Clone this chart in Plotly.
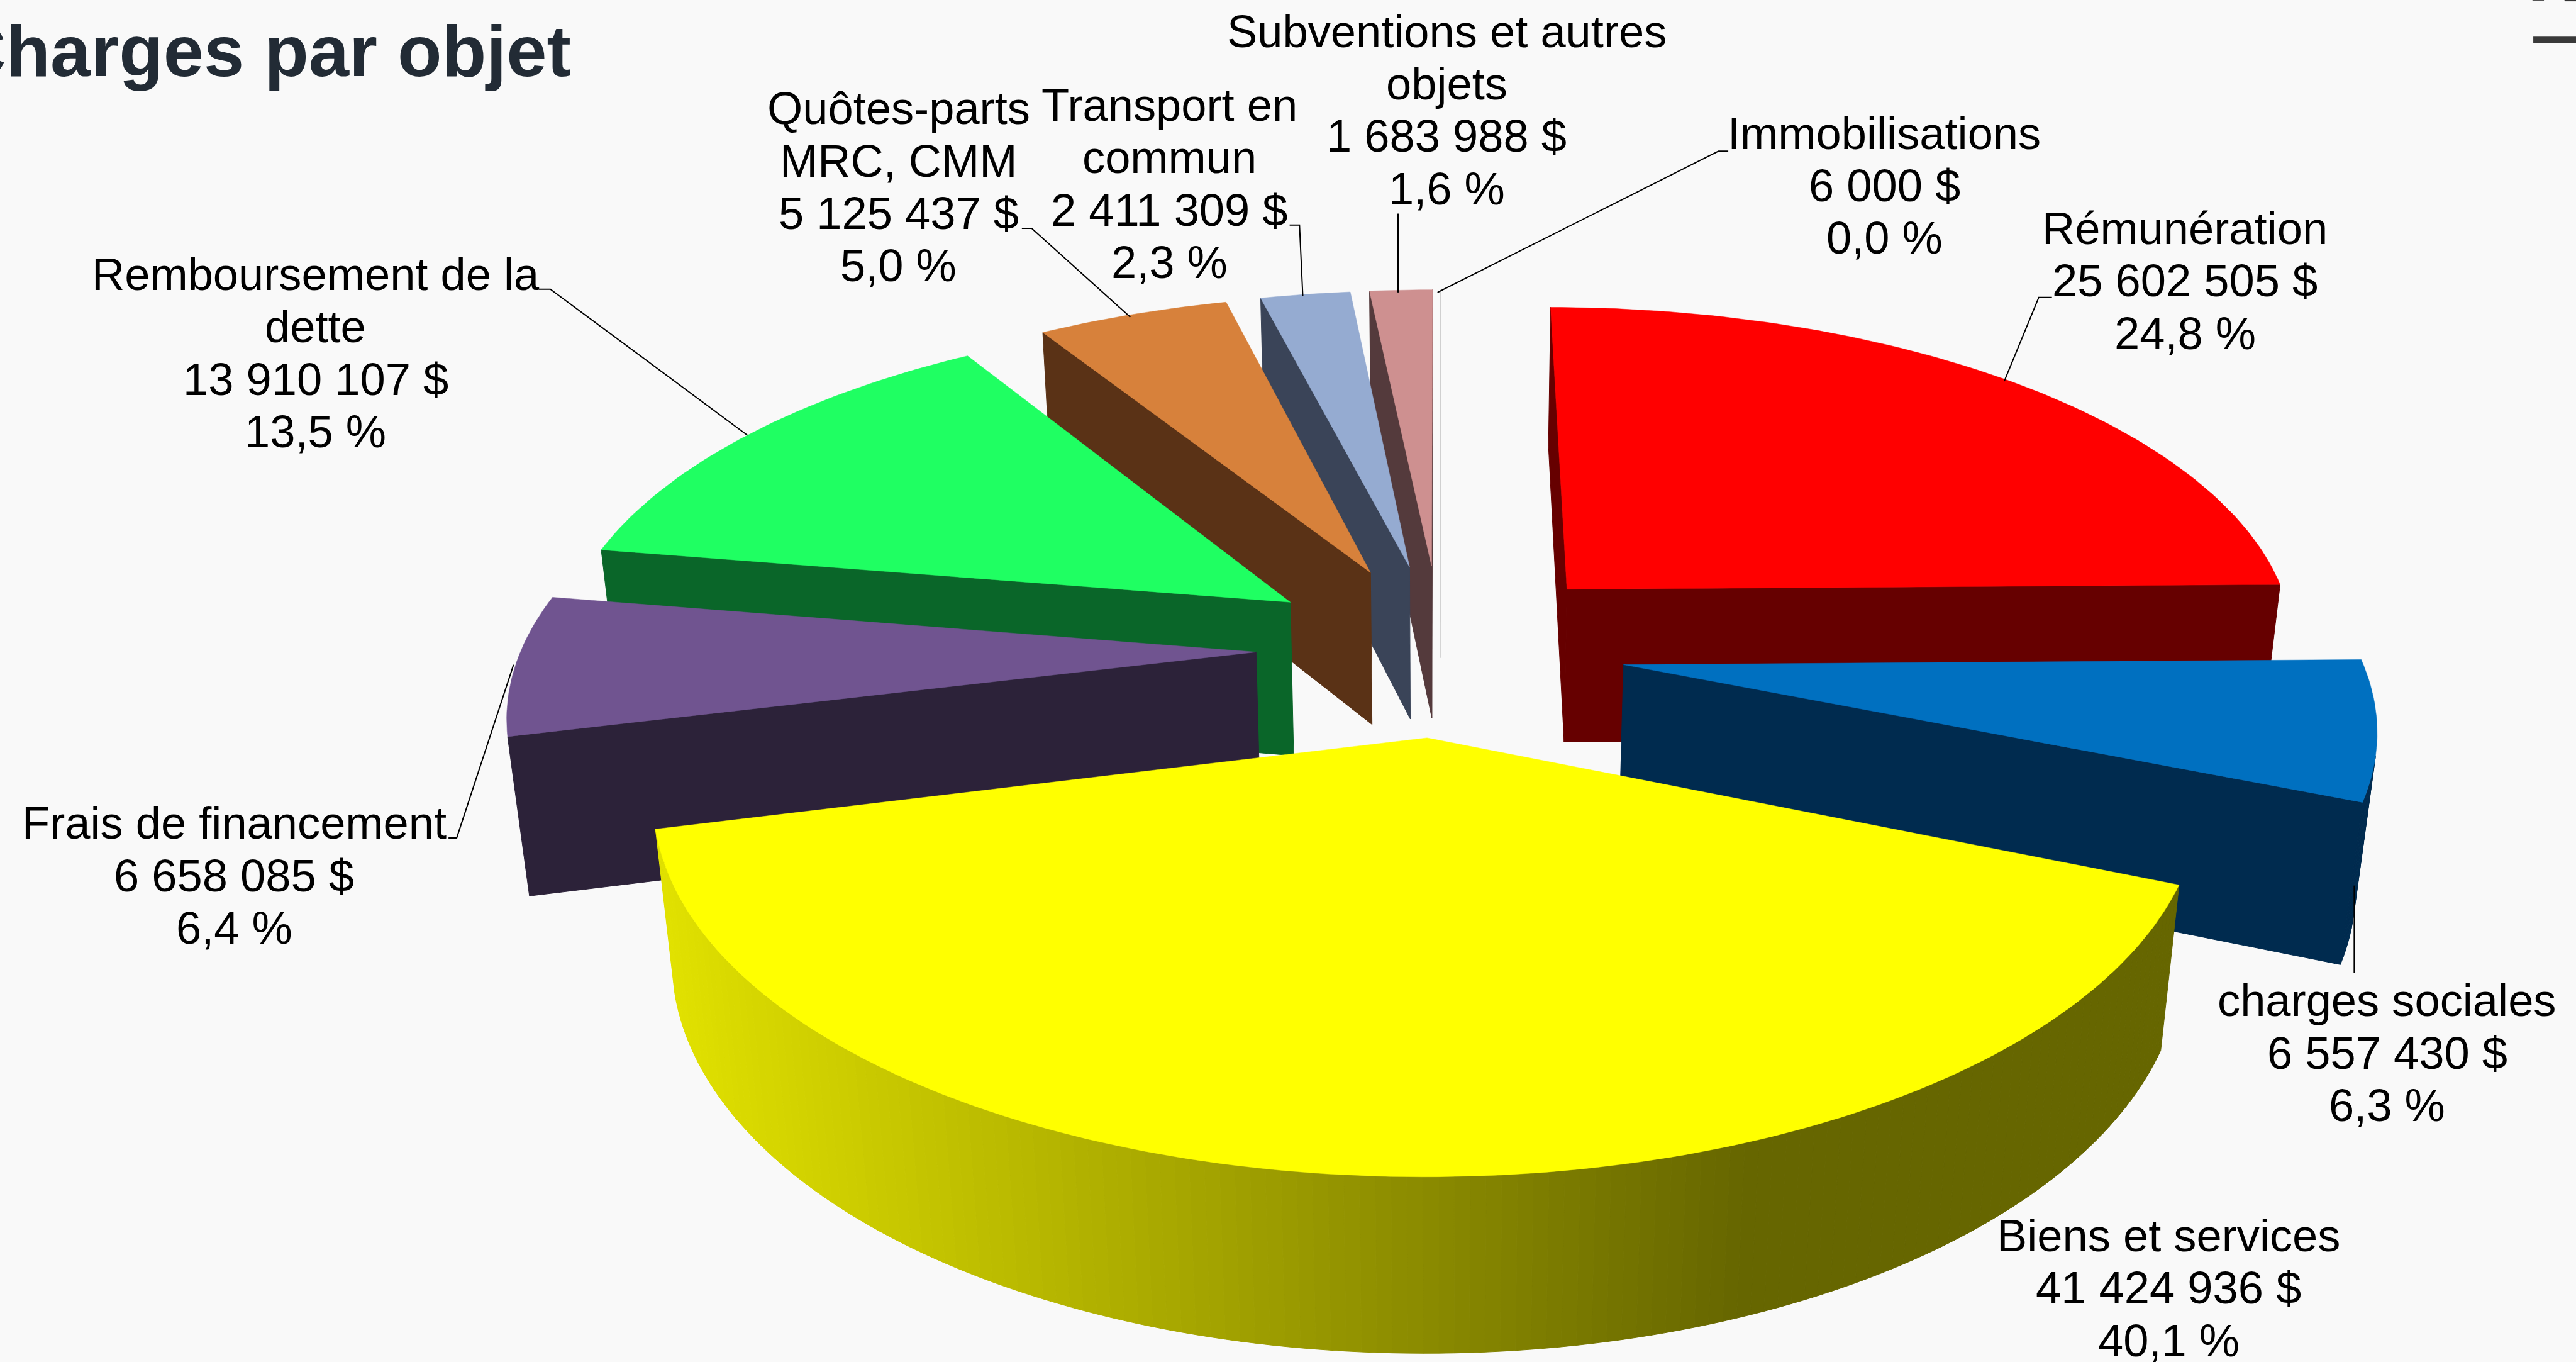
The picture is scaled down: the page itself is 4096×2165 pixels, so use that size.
import math
import plotly.graph_objects as go

# ---------- data ----------
names = ["Rémunération", "charges sociales", "Biens et services", "Frais de financement",
         "Remboursement de la\ndette", "Quôtes-parts\nMRC, CMM", "Transport en\ncommun",
         "Subventions et autres\nobjets", "Immobilisations"]
values = [25602505, 6557430, 41424936, 6658085, 13910107, 5125437, 2411309, 1683988, 6000]
top_colors = ["#FF0000", "#0070C0", "#FFFF00", "#705490", "#1FFF62", "#D7813B", "#95ABD1", "#CE9090", "#D0D0D0"]
side_colors = ["#660000", "#002B4F", "#666600", "#2C2239", "#0A6629", "#5A3216", "#3A4458", "#543A3C", "#D0D0D0"]
title_text = "Charges par objet"

# ---------- layout constants (drawing space = 1568 x 829 units) ----------
W, H = 4096, 2165
UW, UH = 1568, 829
label_cx = [1330, 1453, 1320, 142.5, 192, 547, 712, 880.5, 1147]
label_top = [139, 609, 752, 501, 167, 66, 64, 19, 81]
line_step = 31.9
font_px = 72.3
leaders = [
    [(1249, 181), (1241, 181), (1220, 232)],
    [(1433, 539), (1433, 592)],
    [(273, 510), (278, 510), (312.6, 404.6)],
    [(328, 176), (335, 176), (455, 265)],
    [(622, 139), (628, 139), (688, 193)],
    [(785, 137), (791, 137), (793, 180)],
    [(851, 130), (851, 178)],
    [(1052, 92), (1046, 92), (875, 178)],
]

# ---------- camera ----------
XC, M, K, YV, D = 877, 2933, 8868, -969.4, 6.5
DEPTH_W, DEPTH_A = 0.15, 9702
EXPLODE = 0.249
RADIUS = 0.991
SLIVER_DEPTH = 0.6


def project(X, Y, h=0.0):
    w = Y + D + DEPTH_W * h
    return XC + M * X / w, YV + (K + (DEPTH_A - K) * h) / w


def area(pts):
    s = 0
    for i in range(len(pts)):
        a, b = pts[i], pts[(i + 1) % len(pts)]
        s += a[0] * b[1] - b[0] * a[1]
    return s


def lerp_hex(c1, c2, t):
    a = [int(c1[i:i + 2], 16) for i in (1, 3, 5)]
    b = [int(c2[i:i + 2], 16) for i in (1, 3, 5)]
    return "#%02X%02X%02X" % tuple(round(a[i] + (b[i] - a[i]) * t) for i in range(3))


def yellow_shade(x):
    t = max(0.0, min(1.0, (x - 396) / (1063 - 396)))
    return lerp_hex("#E2E200", "#666600", t)


fig = go.Figure()


def poly(pts, color, line=1.0):
    fig.add_trace(go.Scatter(
        x=[p[0] for p in pts] + [pts[0][0]], y=[p[1] for p in pts] + [pts[0][1]],
        mode="lines", fill="toself", fillcolor=color, line=dict(color=color, width=line),
        hoverinfo="skip", showlegend=False))


total = sum(values)
spans = []
acc = 0
for v in values:
    spans.append((acc / total * 2 * math.pi, (acc + v) / total * 2 * math.pi))
    acc += v

draw_order = [8, 7, 6, 5, 4, 3, 0, 1, 2]
for i in draw_order:
    a0, a1 = spans[i]
    mid = (a0 + a1) / 2
    ox, oy = EXPLODE * math.sin(mid), EXPLODE * math.cos(mid)
    n = max(2, int((a1 - a0) / math.radians(1.0)))
    ring = [(ox + RADIUS * math.sin(a0 + (a1 - a0) * j / n), oy + RADIUS * math.cos(a0 + (a1 - a0) * j / n))
            for j in range(n + 1)]
    outline = [(ox, oy)] + ring
    if values[i] / total < 0.001:  # the hair-thin slice
        p_rim = project(*ring[0])
        p_low = project(ox, oy, SLIVER_DEPTH)
        fig.add_trace(go.Scatter(x=[p_rim[0], p_low[0]], y=[p_rim[1], p_low[1]], mode="lines",
                                 line=dict(color=top_colors[i], width=1.5), hoverinfo="skip", showlegend=False))
        continue
    for j in range(len(outline)):
        A, B = outline[j], outline[(j + 1) % len(outline)]
        quad = [project(*A), project(*B), project(*B, 1.0), project(*A, 1.0)]
        if area(quad) < 0:
            c = side_colors[i]
            if i == 2:
                c = yellow_shade((quad[0][0] + quad[1][0]) / 2)
            poly(quad, c)
    poly([project(*p) for p in outline], top_colors[i], 0.5)

for pts in leaders:
    fig.add_trace(go.Scatter(x=[p[0] for p in pts], y=[p[1] for p in pts], mode="lines",
                             line=dict(color="#000000", width=2), hoverinfo="skip", showlegend=False))

annotations = []
for i in range(len(values)):
    amount = f"{values[i]:,}".replace(",", " ") + " $"
    pct = f"{values[i] / total * 100:.1f}".replace(".", ",") + " %"
    lines = names[i].split("\n") + [amount, pct]
    for j, txt in enumerate(lines):
        annotations.append(dict(x=label_cx[i], y=label_top[i] + j * line_step, text=txt, showarrow=False,
                                xanchor="center", yanchor="middle", xref="x", yref="y",
                                font=dict(family="Liberation Sans", size=font_px, color="#000000")))
annotations.append(dict(x=348.5, y=31, text=f"<b>{title_text}</b>", showarrow=False, xanchor="right", yanchor="middle",
                        xref="x", yref="y", font=dict(family="Liberation Sans", size=115.5, color="#222B35")))

shapes = [
    dict(type="rect", x0=1542, x1=1568, y0=22.3, y1=26.4, fillcolor="#3A3A3A", line_width=0, xref="x", yref="y"),
    dict(type="rect", x0=1541.5, x1=1548.5, y0=0, y1=0.5, fillcolor="#555555", line_width=0, xref="x", yref="y"),
    dict(type="rect", x0=1561, x1=1568, y0=0, y1=0.8, fillcolor="#333333", line_width=0, xref="x", yref="y"),
]

fig.update_layout(
    width=W, height=H, margin=dict(l=0, r=0, t=0, b=0), autosize=False,
    paper_bgcolor="#F9F9F9", plot_bgcolor="#F9F9F9", showlegend=False,
    xaxis=dict(range=[0, UW], visible=False, fixedrange=True),
    yaxis=dict(range=[UH, 0], visible=False, fixedrange=True),
    annotations=annotations, shapes=shapes,
)
fig.write_html("out.html", config=dict(displayModeBar=False),
               post_script="document.body.style.margin='0';document.body.style.overflow='hidden';")
